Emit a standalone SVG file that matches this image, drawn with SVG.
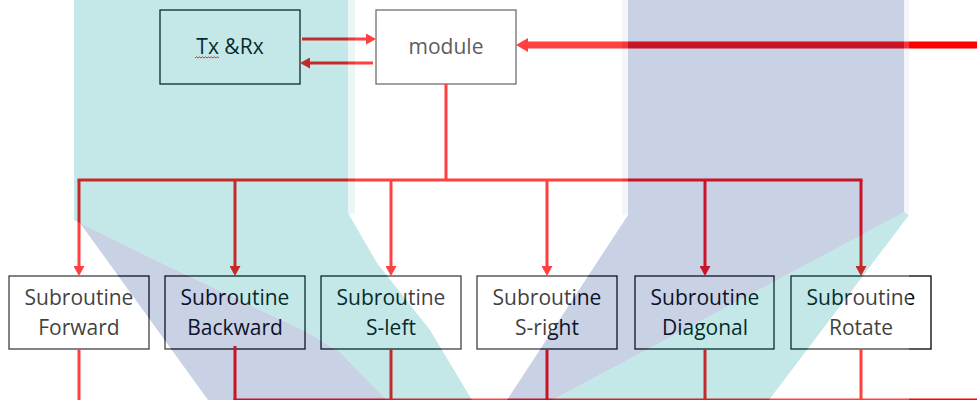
<svg xmlns="http://www.w3.org/2000/svg" width="977" height="400" viewBox="0 0 977 400">
  <defs>
    <style>
      .box { fill: #ffffff; stroke: #000000; stroke-width: 1.3; }
      .box-soft { fill: #ffffff; stroke: #404040; stroke-width: 1.3; }
      .label { font-family: "Open Sans", "Liberation Sans", sans-serif; font-size: 21px; fill: #000000; text-anchor: middle; }
      .wire { fill: none; stroke: #ff0000; stroke-width: 3; }
      .wire-thick { fill: none; stroke: #ff0000; stroke-width: 7; }
      .teal { fill: #18a8a4; }
      .lav { fill: #2c4c98; }
    </style>
    <marker id="head" markerUnits="userSpaceOnUse" markerWidth="10" markerHeight="11" viewBox="0 0 10 11" refX="5" refY="5.5" orient="auto">
      <path d="M0,0 L10,5.5 L0,11 Z" fill="#ff0000"/>
    </marker>
    <marker id="head-big" markerUnits="userSpaceOnUse" markerWidth="12" markerHeight="14" viewBox="0 0 12 14" refX="6" refY="7" orient="auto">
      <path d="M0,0 L12,7 L0,14 Z" fill="#ff0000"/>
    </marker>
  </defs>

  <rect x="0" y="0" width="977" height="400" fill="#ffffff"/>

  <!-- top row -->
  <g id="txrx">
    <rect class="box" x="160" y="10" width="140" height="74"/>
    <text class="label" x="230" y="54">Tx &amp;Rx</text>
    <path d="M195,58 l1.5,-1.2 l1.5,1.2 l1.5,-1.2 l1.5,1.2 l1.5,-1.2 l1.5,1.2 l1.5,-1.2 l1.5,1.2 l1.5,-1.2 l1.5,1.2 l1.5,-1.2 l1.5,1.2 l1.5,-1.2 l1.5,1.2 l1.5,-1.2 l1.5,1.2" fill="none" stroke="#ff0000" stroke-width="0.9"/>
  </g>
  <g id="module">
    <rect class="box-soft" x="376" y="10" width="140" height="74"/>
    <text class="label" x="446" y="54" style="fill:#262626">module</text>
  </g>

  <!-- subroutine row -->
  <g id="sub-forward">
    <rect class="box" x="9" y="276" width="140" height="73"/>
    <text class="label" x="79" y="305">Subroutine</text>
    <text class="label" x="79" y="335">Forward</text>
  </g>
  <g id="sub-backward">
    <rect class="box" x="165" y="276" width="140" height="73"/>
    <text class="label" x="235" y="305">Subroutine</text>
    <text class="label" x="235" y="335">Backward</text>
  </g>
  <g id="sub-sleft">
    <rect class="box" x="321" y="276" width="140" height="73"/>
    <text class="label" x="391" y="305">Subroutine</text>
    <text class="label" x="391" y="335">S-left</text>
  </g>
  <g id="sub-sright">
    <rect class="box" x="477" y="276" width="140" height="73"/>
    <text class="label" x="547" y="305">Subroutine</text>
    <text class="label" x="547" y="335">S-right</text>
  </g>
  <g id="sub-diagonal">
    <rect class="box" x="635" y="276" width="139" height="73"/>
    <text class="label" x="705" y="305">Subroutine</text>
    <text class="label" x="705" y="335">Diagonal</text>
  </g>
  <g id="sub-rotate">
    <rect class="box" x="791" y="276" width="140" height="73"/>
    <text class="label" x="861" y="305">Subroutine</text>
    <text class="label" x="861" y="335">Rotate</text>
  </g>

  <!-- connectors -->
  <g id="connectors">
    <path class="wire" d="M302,39 H371" marker-end="url(#head)"/>
    <path class="wire" d="M373,63 H305" marker-end="url(#head)"/>
    <path class="wire-thick" d="M977,45 H522" marker-end="url(#head-big)"/>
    <path class="wire" d="M446,84 V180"/>
    <path class="wire" d="M77.5,180 H862.5"/>
    <path class="wire" d="M79,180 V271" marker-end="url(#head)"/>
    <path class="wire" d="M235,180 V271" marker-end="url(#head)"/>
    <path class="wire" d="M391,180 V271" marker-end="url(#head)"/>
    <path class="wire" d="M547,180 V271" marker-end="url(#head)"/>
    <path class="wire" d="M705,180 V271" marker-end="url(#head)"/>
    <path class="wire" d="M861,180 V271" marker-end="url(#head)"/>
    <path class="wire" d="M79,349 V402"/>
    <path class="wire" d="M235,346 V402"/>
    <path class="wire" d="M391,349 V402"/>
    <path class="wire" d="M547,349 V402"/>
    <path class="wire" d="M705,349 V402"/>
    <path class="wire" d="M861,349 V402"/>
    <path class="wire" d="M233.5,401.5 H977" style="stroke-width:6"/>
  </g>

  <!-- translucent backdrop logo laid over the chart -->
  <g id="watermark" opacity="0.25">
    <rect x="0" y="0" width="909" height="400" fill="#ffffff"/>
    <path class="teal" d="M74,0 H348 V213 L377,263 L430,330 L472,400 L387,400 L340,352 L305,331 L170,267 L74,220 Z"/>
    <path class="lav" d="M74,220 L170,267 L305,331 L340,352 L387,400 L208,400 L80,223 Z"/>
    <path class="lav" d="M628,0 H904 V213 L553,400 L507,400 L628,215 Z"/>
    <path class="teal" d="M904,212 L909,215 L769,400 L553,400 Z"/>
    <rect class="teal" x="348" y="0" width="7" height="214" opacity="0.35"/>
    <rect class="lav" x="622" y="0" width="6" height="215" opacity="0.2"/>
    <rect class="lav" x="904" y="0" width="5" height="213" opacity="0.2"/>
  </g>
</svg>
